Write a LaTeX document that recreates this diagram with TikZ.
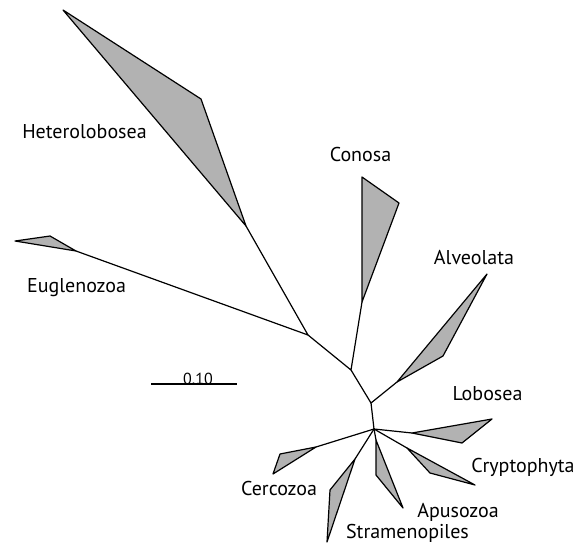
\documentclass[tikz,border=0pt]{standalone}
\usepackage{fontspec}
\setmainfont{PT Sans}
\begin{document}
\begin{tikzpicture}[x=1pt,y=-1pt,
  br/.style={line width=1.2pt, line join=round, line cap=round},
  clade/.style={br, fill=black!30},
  lbl/.style={anchor=base, inner sep=0pt, font=\fontsize{20}{22}\selectfont},
  scl/.style={anchor=base, inner sep=0pt, font=\fontsize{16}{18}\selectfont}]
\useasboundingbox (0,0) rectangle (578,543);
% internal nodes
\coordinate (A) at (308,335);
\coordinate (B) at (351,370);
\coordinate (C) at (371,403);
\coordinate (D) at (374,429);
% Heterolobosea
\coordinate (h0) at (246,226);
\coordinate (h1) at (63,10);
\coordinate (h2) at (201,99);
% Euglenozoa
\coordinate (e0) at (76,251);
\coordinate (e1) at (15,241);
\coordinate (e2) at (50,236);
% Conosa
\coordinate (c0) at (362,302);
\coordinate (c1) at (362,177);
\coordinate (c2) at (399,203);
% Alveolata
\coordinate (a0) at (397,382);
\coordinate (a1) at (487,274);
\coordinate (a2) at (443,356);
% Lobosea
\coordinate (l0) at (412,433);
\coordinate (l1) at (492,419);
\coordinate (l2) at (462,443);
% Cryptophyta
\coordinate (k0) at (407,448);
\coordinate (k1) at (475,485);
\coordinate (k2) at (430,473);
% Apusozoa
\coordinate (p0) at (376,440);
\coordinate (p1) at (403,508);
\coordinate (p2) at (376,475);
% Stramenopiles
\coordinate (s0) at (355,459);
\coordinate (s1) at (327,542);
\coordinate (s2) at (330,490);
% Cercozoa
\coordinate (z0) at (316,447);
\coordinate (z1) at (273,474);
\coordinate (z2) at (280,454);
% branches
\draw[br] (h0) -- (A) -- (e0);
\draw[br] (A) -- (B) -- (c0);
\draw[br] (B) -- (C) -- (a0);
\draw[br] (C) -- (D);
\draw[br] (D) -- (l0);
\draw[br] (D) -- (k0);
\draw[br] (D) -- (p0);
\draw[br] (D) -- (s0);
\draw[br] (D) -- (z0);
% clades
\draw[clade] (h0) -- (h1) -- (h2) -- cycle;
\draw[clade] (e0) -- (e1) -- (e2) -- cycle;
\draw[clade] (c0) -- (c1) -- (c2) -- cycle;
\draw[clade] (a0) -- (a1) -- (a2) -- cycle;
\draw[clade] (l0) -- (l1) -- (l2) -- cycle;
\draw[clade] (k0) -- (k1) -- (k2) -- cycle;
\draw[clade] (p0) -- (p1) -- (p2) -- cycle;
\draw[clade] (s0) -- (s1) -- (s2) -- cycle;
\draw[clade] (z0) -- (z1) -- (z2) -- cycle;
% labels
\node[lbl] (tH) at (84.5,138) {Heterolobosea};
\node[lbl] (tE) at (76.5,292) {Euglenozoa};
\node[lbl] (tC) at (360.5,161) {Conosa};
\node[lbl] (tA) at (474,264) {Alveolata};
\node[lbl] (tL) at (487.5,400) {Lobosea};
\node[lbl] (tK) at (523,472) {Cryptophyta};
\node[lbl] (tP) at (458,517) {Apusozoa};
\node[lbl] (tS) at (407.5,538) {Stramenopiles};
\node[lbl] (tZ) at (279,495) {Cercozoa};
% scale bar
\coordinate (sb1) at (151,384);
\coordinate (sb2) at (237,384);
\draw[line width=1.1pt] (sb1) -- (sb2);
\node[scl] (tS10) at (198,384.5) {0.10};
\end{tikzpicture}
\end{document}
